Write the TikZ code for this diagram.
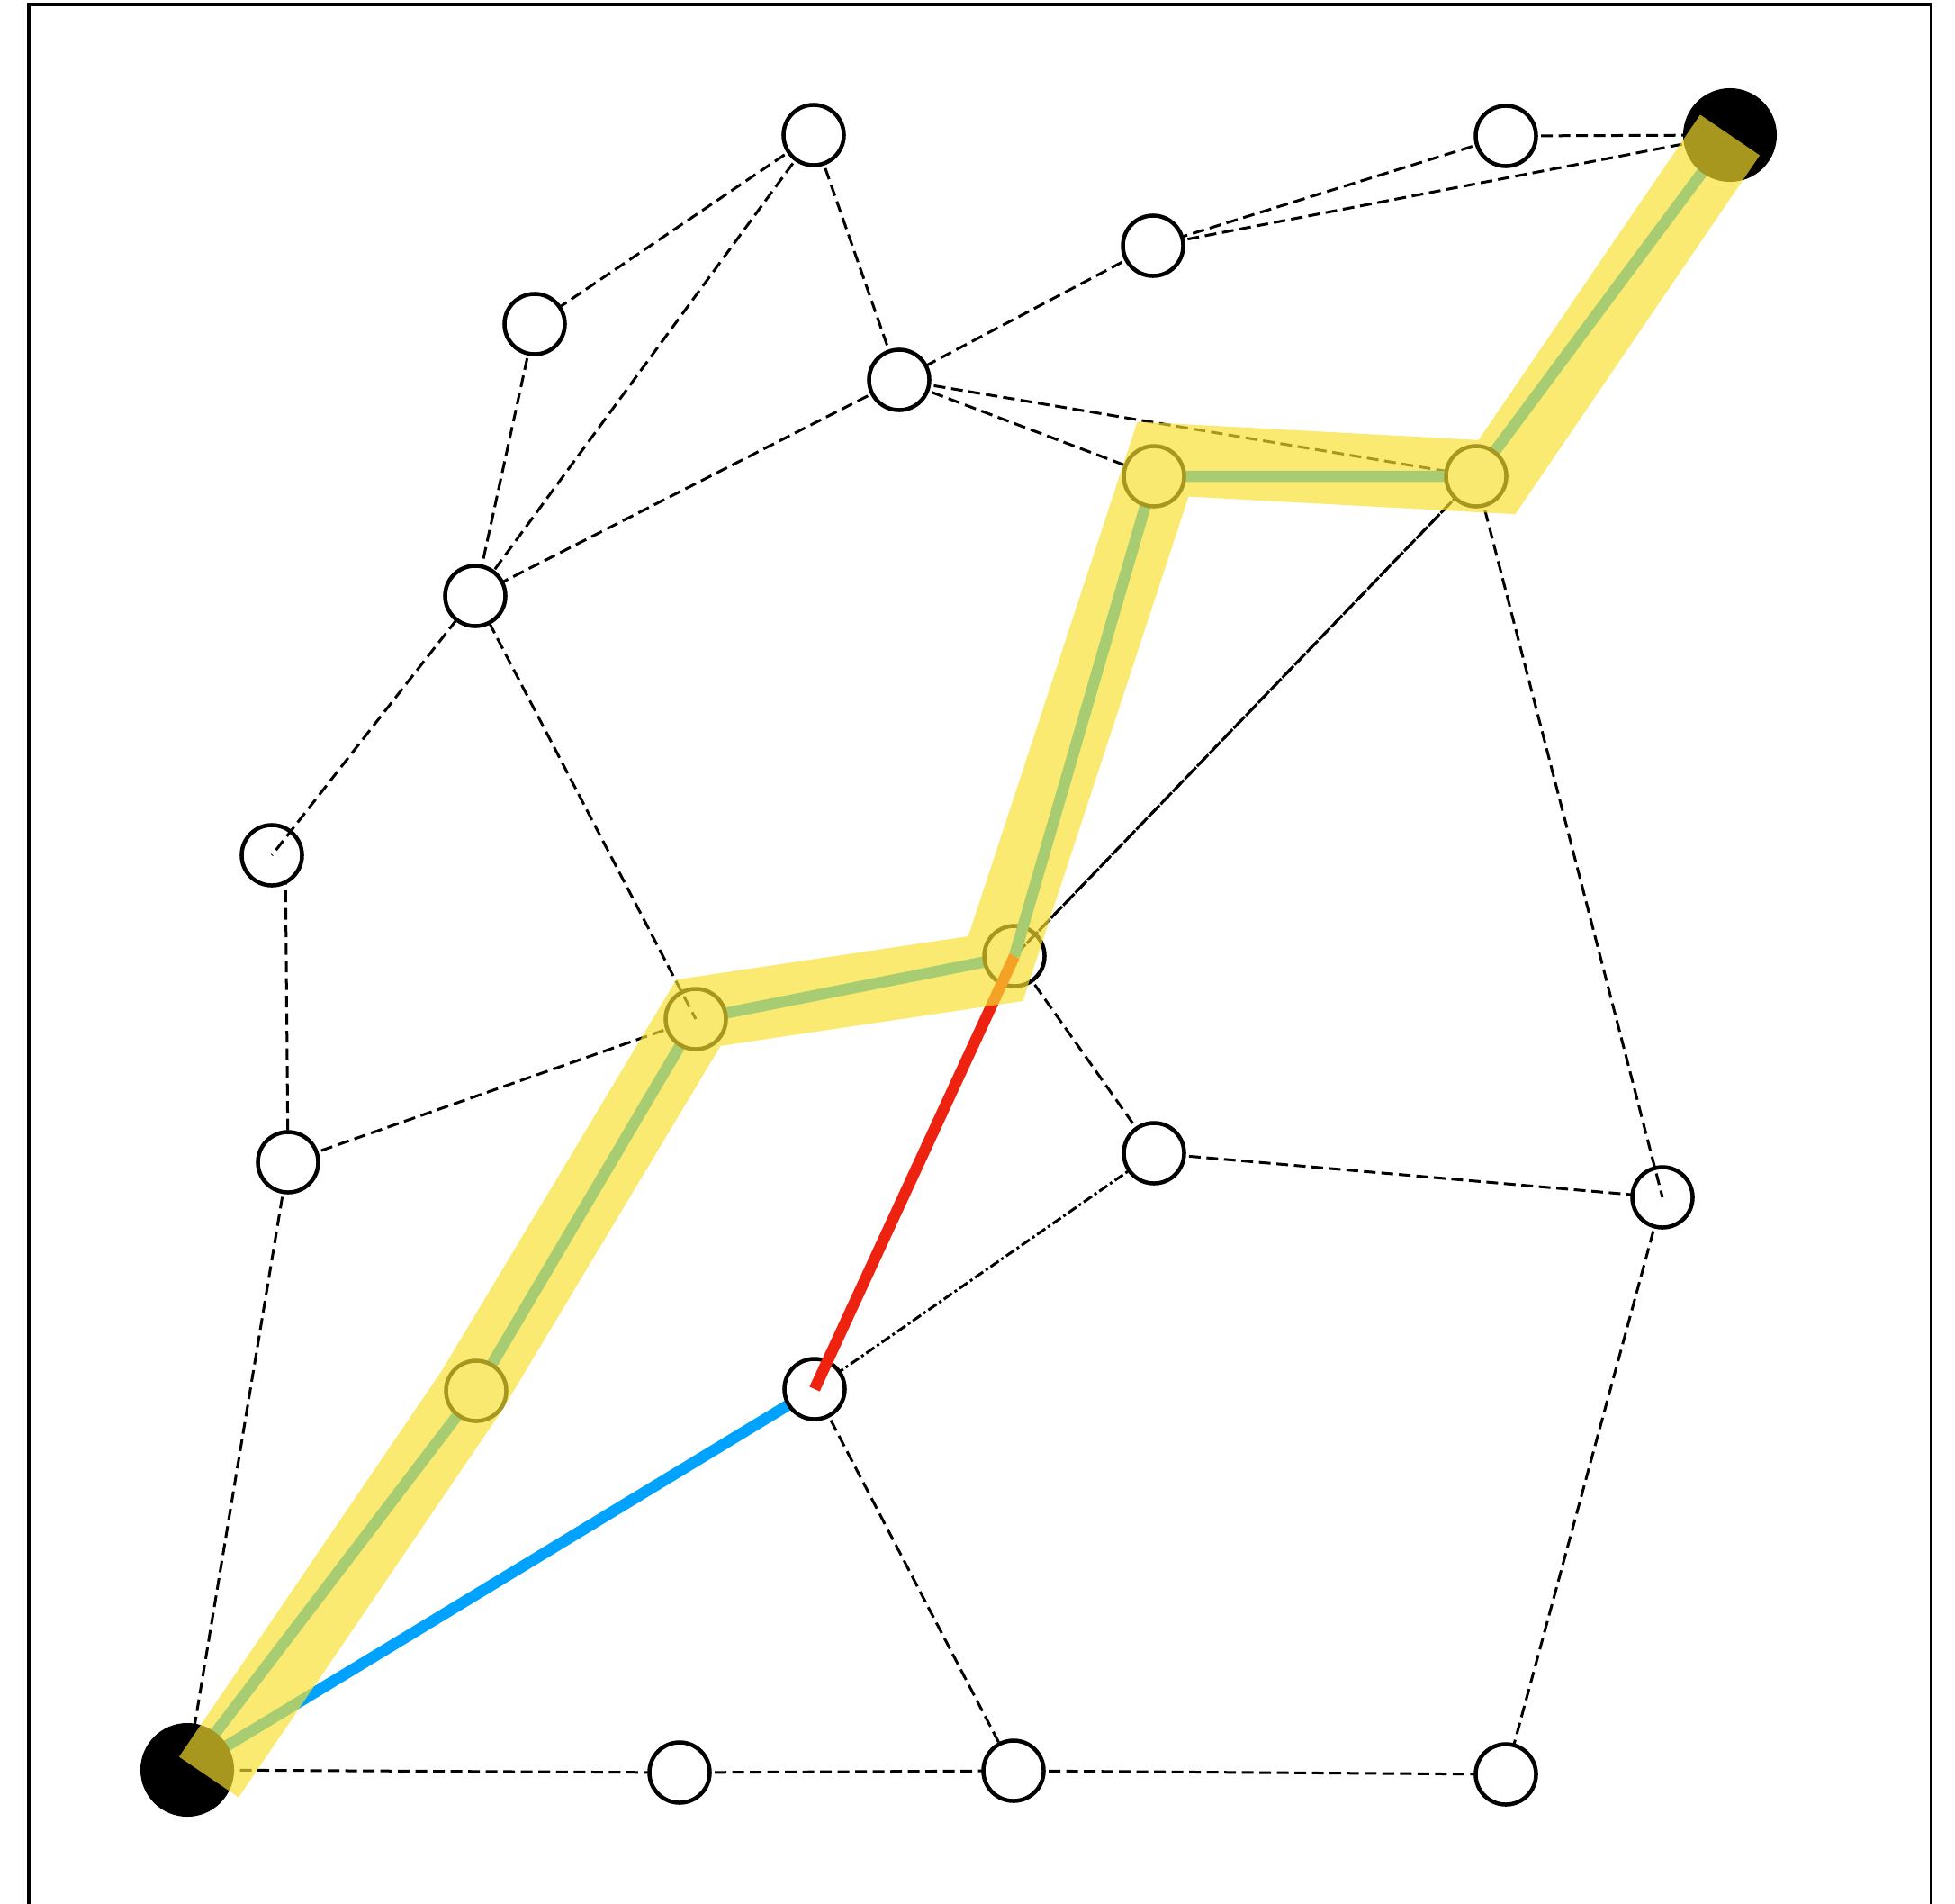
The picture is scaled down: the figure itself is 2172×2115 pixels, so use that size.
\documentclass[tikz,border=0pt]{standalone}
\definecolor{pathblue}{RGB}{0,162,255}
\definecolor{pathred}{RGB}{238,34,17}
\definecolor{hilite}{RGB}{247,224,47}
\begin{document}
\begin{tikzpicture}[x=0.01cm,y=-0.01cm,
  vert/.style={circle,draw=black,fill=white,line width=0.045cm,minimum size=0.67cm,inner sep=0pt,outer sep=0pt},
  endpt/.style={circle,fill=black,minimum size=1.04cm,inner sep=0pt,outer sep=0pt},
  edge/.style={black,line width=0.03cm,dash pattern=on 0.13cm off 0.065cm},
  dotedge/.style={black,line width=0.03cm,dash pattern=on 0.11cm off 0.035cm on 0.03cm off 0.035cm},
  route/.style={pathblue,line width=0.125cm},
  detour/.style={pathred,line width=0.125cm},
  glow/.style={hilite,opacity=0.68,line width=0.8cm,line join=miter,line cap=butt}]
\path[use as bounding box] (0,0) rectangle (2172,2115);
\clip (0,0) rectangle (2172,2115);
\draw[line width=0.03cm] (32,5) rectangle (2145,2400);
% positions
\coordinate (A) at (904,150);
\coordinate (B) at (1673,151);
\coordinate (T) at (1922,150);
\coordinate (C) at (1281,273);
\coordinate (D) at (594,360);
\coordinate (E) at (999,422);
\coordinate (F) at (1282,529);
\coordinate (G) at (1640,529);
\coordinate (H) at (528,662);
\coordinate (I) at (302,950);
\coordinate (Ia) at (317,950);
\coordinate (J) at (1127,1062);
\coordinate (K) at (773,1132);
\coordinate (L) at (1282,1281);
\coordinate (M) at (320,1291);
\coordinate (N) at (1847,1330);
\coordinate (O) at (529,1545);
\coordinate (P) at (905,1543);
\coordinate (Z) at (208,1966);
\coordinate (Q) at (755,1969);
\coordinate (R) at (1126,1967);
\coordinate (U) at (1673,1971);
% highlight vertices
\coordinate (h1) at (232,1974);
\coordinate (h2) at (524,1545);
\coordinate (h3) at (776,1125);
\coordinate (h4) at (1106,1076);
\coordinate (h5) at (1292,510);
\coordinate (h6) at (1663,530);
\coordinate (h7) at (1922,150);
% dashed edges (under nodes)
\draw[edge] (A) -- (D);
\draw[edge] (A) -- (H);
\draw[edge] (A) -- (E);
\draw[edge] (B) -- (T);
\draw[edge] (B) -- (C);
\draw[edge] (C) -- (T);
\draw[edge] (C) -- (E);
\draw[edge] (E) -- (H);
\draw[edge] (E) -- (F);
\draw[edge] (E) -- (G);
\draw[edge] (D) -- (H);
\draw[edge] (Ia) -- (M);
\draw[edge] (M) -- (K);
\draw[edge] (M) -- (Z);
\draw[edge] (J) -- (L);
\draw[edge] (L) -- (N);
\draw[edge] (N) -- (U);
\draw[edge] (P) -- (R);
\draw[edge] (Z) -- (Q);
\draw[edge] (Q) -- (R);
\draw[edge] (R) -- (U);
\draw[dotedge] (L) -- (P);
% route segments under nodes
\draw[route] (Z) -- (O) -- (K) -- (J);
\draw[route] (F) -- (G) -- (T);
\draw[route] (Z) -- (P);
% nodes
\node[vert] (nA) at (A) {};
\node[vert] (nB) at (B) {};
\node[vert] (nC) at (C) {};
\node[vert] (nD) at (D) {};
\node[vert] (nE) at (E) {};
\node[vert] (nH) at (H) {};
\node[vert] (nI) at (I) {};
\node[vert] (nJ) at (J) {};
\node[vert] (nK) at (K) {};
\node[vert] (nL) at (L) {};
\node[vert] (nM) at (M) {};
\node[vert] (nN) at (N) {};
\node[vert] (nO) at (O) {};
\node[vert] (nP) at (P) {};
\node[vert] (nQ) at (Q) {};
\node[vert] (nR) at (R) {};
\node[vert] (nU) at (U) {};
\node[endpt] (nT) at (T) {};
\node[endpt] (nZ) at (Z) {};
% edges drawn over some nodes
\draw[edge] (nH) -- (I);
\draw[edge] (nH) -- (K);
\draw[edge] (G) -- (N);
\draw[edge] (G) -- (J);
\draw[edge] (J) -- (G);
\draw[route] (J) -- (F);
\draw[detour] (P) -- (J);
\node[vert] (nF) at (F) {};
\node[vert] (nG) at (G) {};
% highlight
\draw[glow] (h1) -- (h2) -- (h3) -- (h4) -- (h5) -- (h6) -- (h7);
\end{tikzpicture}
\end{document}
